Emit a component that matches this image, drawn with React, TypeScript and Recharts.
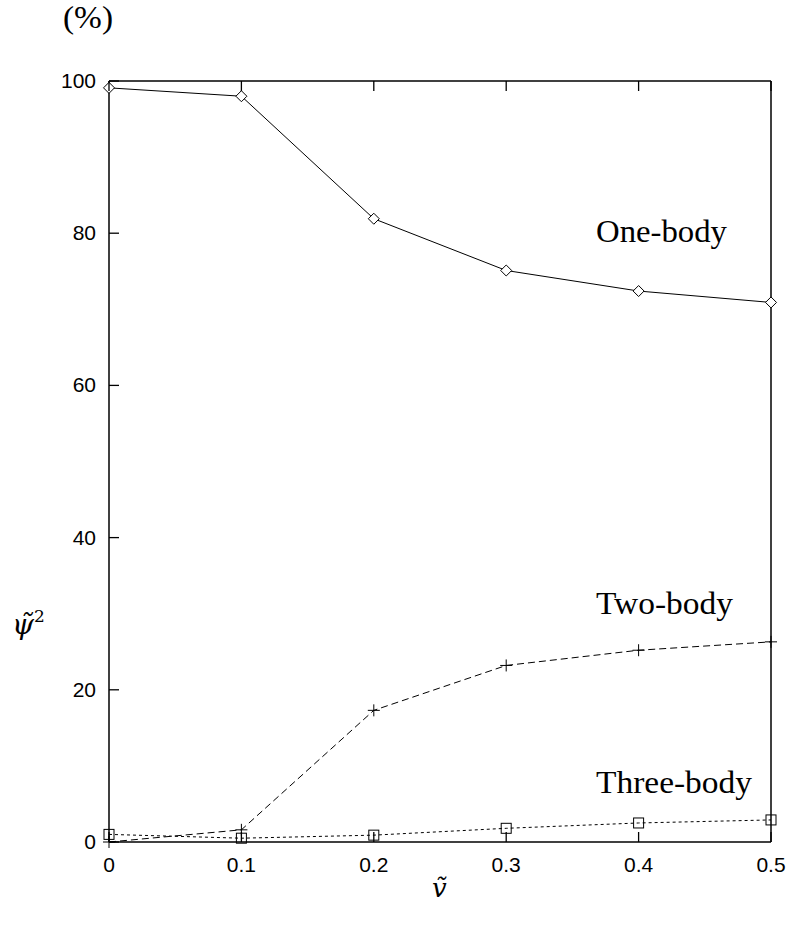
import React from 'react';
import { LineChart, Line, XAxis, YAxis } from 'recharts';

const vValues = [0, 0.1, 0.2, 0.3, 0.4, 0.5];
const oneBody = [99.1, 98.0, 81.9, 75.1, 72.4, 70.9];
const twoBody = [0.0, 1.6, 17.3, 23.2, 25.2, 26.3];
const threeBody = [1.0, 0.5, 0.9, 1.8, 2.5, 2.9];
const xTicks = [0, 0.1, 0.2, 0.3, 0.4, 0.5];
const yTicks = [0, 20, 40, 60, 80, 100];

const data = vValues.map((v, i) => ({
  v,
  one: oneBody[i],
  two: twoBody[i],
  three: threeBody[i],
}));

const TICK_LEN = 10;
const tickFont = { fontFamily: '"Liberation Sans", Arial, sans-serif', fontSize: 21, fill: '#000' };
const serif = '"Liberation Serif", "Times New Roman", serif';
const mathFont = '"DejaVu Serif", serif';

const BottomTick = (props: any) => {
  const { x, y, payload } = props;
  return (
    <g>
      <path d={`M${x},${y}V${y - TICK_LEN}`} stroke="#000" strokeWidth={1.3} fill="none" />
      <text x={x} y={y + 30} textAnchor="middle" {...tickFont}>
        {payload.value}
      </text>
    </g>
  );
};

const TopTick = (props: any) => {
  const { x, y } = props;
  return <path d={`M${x},${y}V${y + TICK_LEN}`} stroke="#000" strokeWidth={1.3} fill="none" />;
};

const LeftTick = (props: any) => {
  const { x, y, payload } = props;
  return (
    <g>
      <path d={`M${x},${y}H${x + TICK_LEN}`} stroke="#000" strokeWidth={1.3} fill="none" />
      <text x={x - 13} y={y + 7} textAnchor="end" {...tickFont}>
        {payload.value}
      </text>
    </g>
  );
};

const RightTick = (props: any) => {
  const { x, y } = props;
  return <path d={`M${x},${y}H${x - TICK_LEN}`} stroke="#000" strokeWidth={1.3} fill="none" />;
};

const Diamond = (props: any) => {
  const { cx, cy, index } = props;
  if (cx == null || cy == null) return <g key={index} />;
  const s = 5.5;
  return (
    <polygon
      key={index}
      points={`${cx},${cy - s} ${cx + s},${cy} ${cx},${cy + s} ${cx - s},${cy}`}
      fill="#fff"
      stroke="#000"
      strokeWidth={1}
    />
  );
};

const Plus = (props: any) => {
  const { cx, cy, index } = props;
  if (cx == null || cy == null) return <g key={index} />;
  const s = 6;
  return (
    <g key={index}>
      <line x1={cx - s} y1={cy} x2={cx + s} y2={cy} stroke="#000" strokeWidth={1} />
      <line x1={cx} y1={cy - s} x2={cx} y2={cy + s} stroke="#000" strokeWidth={1} />
    </g>
  );
};

const Square = (props: any) => {
  const { cx, cy, index } = props;
  if (cx == null || cy == null) return <g key={index} />;
  const s = 5;
  return (
    <rect key={index} x={cx - s} y={cy - s} width={2 * s} height={2 * s} fill="none" stroke="#000" strokeWidth={1} />
  );
};

export default function App() {
  return (
    <div style={{ position: 'absolute', left: 0, top: 0, width: 789, height: 938, background: '#fff' }}>
      <LineChart width={789} height={938} data={data} margin={{ top: 71, right: 8, bottom: 66, left: 49 }}>
        <XAxis
          xAxisId="b"
          dataKey="v"
          type="number"
          domain={[0, 0.5]}
          ticks={xTicks}
          height={30}
          tickSize={0}
          tickMargin={0}
          tickLine={false}
          axisLine={{ stroke: '#000', strokeWidth: 1.5 }}
          tick={<BottomTick />}
          interval={0}
        />
        <XAxis
          xAxisId="t"
          orientation="top"
          dataKey="v"
          type="number"
          domain={[0, 0.5]}
          ticks={xTicks}
          height={10}
          tickSize={0}
          tickMargin={0}
          tickLine={false}
          axisLine={{ stroke: '#000', strokeWidth: 1.5 }}
          tick={<TopTick />}
          interval={0}
        />
        <YAxis
          yAxisId="l"
          type="number"
          domain={[0, 100]}
          ticks={yTicks}
          width={60}
          tickSize={0}
          tickMargin={0}
          tickLine={false}
          axisLine={{ stroke: '#000', strokeWidth: 1.5 }}
          tick={<LeftTick />}
          interval={0}
        />
        <YAxis
          yAxisId="r"
          orientation="right"
          type="number"
          domain={[0, 100]}
          ticks={yTicks}
          width={10}
          tickSize={0}
          tickMargin={0}
          tickLine={false}
          axisLine={{ stroke: '#000', strokeWidth: 1.5 }}
          tick={<RightTick />}
          interval={0}
        />
        <Line
          xAxisId="b"
          yAxisId="l"
          dataKey="one"
          type="linear"
          stroke="#000"
          strokeWidth={1}
          dot={<Diamond />}
          isAnimationActive={false}
        />
        <Line
          xAxisId="b"
          yAxisId="l"
          dataKey="two"
          type="linear"
          stroke="#000"
          strokeWidth={1}
          strokeDasharray="7 4"
          dot={<Plus />}
          isAnimationActive={false}
        />
        <Line
          xAxisId="b"
          yAxisId="l"
          dataKey="three"
          type="linear"
          stroke="#000"
          strokeWidth={1}
          strokeDasharray="3 3"
          dot={<Square />}
          isAnimationActive={false}
        />
      </LineChart>
      <svg
        width={789}
        height={938}
        style={{ position: 'absolute', left: 0, top: 0, pointerEvents: 'none' }}
      >
        <text x={596} y={242} fontFamily={serif} fontSize={32} textLength={131} lengthAdjust="spacingAndGlyphs">
          One-body
        </text>
        <text x={596} y={614} fontFamily={serif} fontSize={32} textLength={137} lengthAdjust="spacingAndGlyphs">
          Two-body
        </text>
        <text x={596} y={793} fontFamily={serif} fontSize={32} textLength={156} lengthAdjust="spacingAndGlyphs">
          Three-body
        </text>
        <text x={63} y={28} fontFamily={serif} fontSize={32} textLength={50} lengthAdjust="spacingAndGlyphs">
          (%)
        </text>
        <text x={12} y={634} fontFamily={mathFont} fontSize={28} fontStyle="italic" fontWeight={300}>
          {'\u03C8\u0303'}
          <tspan fontSize={17} fontStyle="normal" dy={-12}>2</tspan>
        </text>
        <text x={432} y={897} fontFamily={mathFont} fontSize={26} fontStyle="italic">
          {'\u1E7D'}
        </text>
      </svg>
    </div>
  );
}
